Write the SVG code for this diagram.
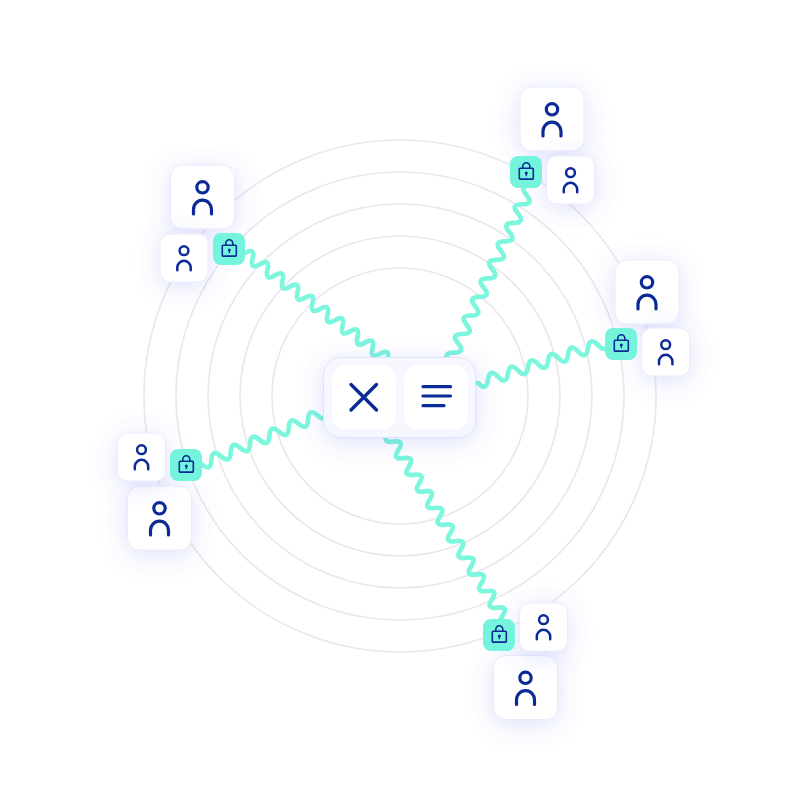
<svg xmlns="http://www.w3.org/2000/svg" xmlns:xlink="http://www.w3.org/1999/xlink" width="800" height="800" viewBox="0 0 800 800">
<style>
.ring{fill:none;stroke:#E8E8EC;stroke-width:1.6}
.wave{fill:none;stroke:#7CF6DD;stroke-width:4.700;stroke-linecap:round}
.card{fill:#FFFFFF;stroke:#E9EBFD;stroke-width:1;filter:url(#sh)}
.ico{fill:none;stroke:#0B2A96;stroke-linecap:round}
.badge{fill:#75F4DD}
.lock{fill:none;stroke:#0B2A96;stroke-width:1.600}
</style>
<defs>
<filter id="sh" x="-70%" y="-70%" width="240%" height="240%"><feDropShadow dx="0" dy="4" stdDeviation="12" flood-color="#5A64F0" flood-opacity="0.2"/></filter>
<g id="big"><rect class="card" width="64" height="64" rx="12"/><g class="ico" stroke-width="3.200"><circle cx="32" cy="22.300" r="5.700"/><path d="M23 49v-4.800a9 9 0 0 1 18 0v4.800"/></g></g>
<g id="small"><rect class="card" width="48" height="48" rx="10"/><g class="ico" stroke-width="2.500"><circle cx="24" cy="16.700" r="4.400"/><path d="M17.300 36.300v-2.800a6.700 6.700 0 0 1 13.400 0v2.800"/></g></g>
<g id="lk"><rect class="badge" width="32" height="32" rx="8"/><g class="lock"><rect x="9.300" y="12.300" width="14" height="10.800" rx="0.800"/><path d="M12.800 12v-1.800a3.500 3.500 0 0 1 7 0v1.800"/></g><circle cx="16.300" cy="17" r="1.500" fill="#0B2A96"/><path d="M16.300 17v3.200" stroke="#0B2A96" stroke-width="1.200"/></g>
</defs>
<g id="rings">
<circle class="ring" cx="400" cy="396" r="128"/><circle class="ring" cx="400" cy="396" r="160"/><circle class="ring" cx="400" cy="396" r="192"/><circle class="ring" cx="400" cy="396" r="224"/><circle class="ring" cx="400" cy="396" r="256"/>
</g>
<g id="connectors">
<path class="wave" d="M245 253q10.350-6 7.500 5.600t7.500 5.600 7.500 5.600 7.500 5.600 7.500 5.600 7.500 5.600 7.500 5.600 7.500 5.600 7.500 5.600 7.500 5.600 7.500 5.600 7.500 5.600 7.500 5.600 7.500 5.600 7.500 5.600 7.500 5.600 7.500 5.600 7.500 5.600 7.500 5.600"/>
<path class="wave" d="M530.700 185.700q-12.120 .030-4.270 9.270t-4.270 9.270-4.270 9.270-4.270 9.270-4.270 9.270-4.270 9.270-4.270 9.270-4.270 9.270-4.270 9.270-4.270 9.270-4.270 9.270-4.270 9.270-4.270 9.270-4.270 9.270-4.270 9.270-4.270 9.270-4.270 9.270-4.270 9.270-4.270 9.270"/>
<path class="wave" d="M608 342q-1.570 12.050-10 3.150t-10 3.150-10 3.150-10 3.150-10 3.150-10 3.150-10 3.150-10 3.150-10 3.150-10 3.150-10 3.150-10 3.150-10 3.150"/>
<path class="wave" d="M201.700 464.300q9.080 8.070 9.670-4.070t9.670-4.070 9.670-4.070 9.670-4.070 9.670-4.070 9.670-4.070 9.670-4.070 9.670-4.070 9.670-4.070 9.670-4.070 9.670-4.070 9.670-4.070 9.670-4.070"/>
<path class="wave" d="M388 433.300q-6.730 9.980 5.200 8.300t5.200 8.300 5.200 8.300 5.200 8.300 5.200 8.300 5.200 8.300 5.200 8.300 5.200 8.300 5.200 8.300 5.200 8.300 5.200 8.300 5.200 8.300 5.200 8.300 5.200 8.300 5.200 8.300 5.200 8.300 5.200 8.300 5.200 8.300 5.200 8.300 5.200 8.300 5.200 8.300 5.200 8.300 5.200 8.300"/>
</g>
<g id="center-panel">
<rect class="card" x="323.500" y="357.500" width="152" height="80" rx="17" style="fill:#F6F7FF;stroke:#DFE2FA"/>
<rect x="332" y="365" width="64" height="64" rx="13" fill="#FFFFFF"/>
<rect x="404" y="365" width="64" height="64" rx="13" fill="#FFFFFF"/>
<path class="ico" stroke-width="3.400" d="M351 384.500L376.500 410M376.500 384.500L351 410"/>
<path class="ico" stroke-width="3.200" d="M423 386.700H450.500M423 396H450.500M423 405.700H444"/>
</g>
<g id="node-top-right"><use xlink:href="#big" href="#big" x="520" y="87"/><use xlink:href="#small" href="#small" x="546.500" y="156"/><use href="#lk" xlink:href="#lk" x="510" y="156"/></g>
<g id="node-top-left"><use href="#big" xlink:href="#big" x="170.500" y="165"/><use href="#small" xlink:href="#small" x="160" y="234"/><use href="#lk" xlink:href="#lk" x="213" y="233"/></g>
<g id="node-right"><use href="#big" xlink:href="#big" x="615" y="260"/><use href="#small" xlink:href="#small" x="641.700" y="328"/><use href="#lk" xlink:href="#lk" x="605" y="328"/></g>
<g id="node-left"><use href="#big" xlink:href="#big" x="127.500" y="486"/><use href="#small" xlink:href="#small" x="117.500" y="433"/><use href="#lk" xlink:href="#lk" x="170" y="449"/></g>
<g id="node-bottom"><use href="#big" xlink:href="#big" x="493.500" y="655.500"/><use href="#small" xlink:href="#small" x="519.500" y="603"/><use href="#lk" xlink:href="#lk" x="483" y="619"/></g>
</svg>
